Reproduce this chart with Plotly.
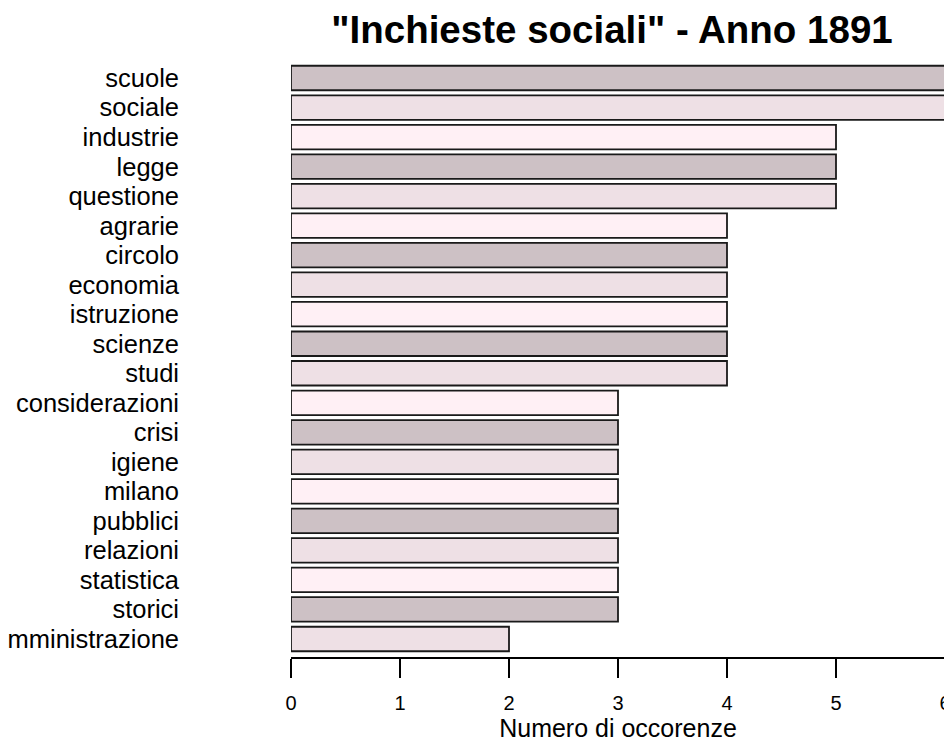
import plotly.graph_objects as go

words = ["amministrazione", "storici", "statistica", "relazioni", "pubblici",
         "milano", "igiene", "crisi", "considerazioni", "studi", "scienze",
         "istruzione", "economia", "circolo", "agrarie", "questione", "legge",
         "industrie", "sociale", "scuole"]
counts = [2, 3, 3, 3, 3, 3, 3, 3, 3, 4, 4, 4, 4, 4, 4, 5, 5, 5, 6, 6]
palette = ["#EEE0E5", "#CDC1C5", "#FFF0F5"]
x_ticks = [0, 1, 2, 3, 4, 5, 6]

colors = [palette[i % 3] for i in range(len(words))]
font = "Liberation Sans, Arial, sans-serif"

# the page body has an 8px margin; figure sized/margined so the plot lands
# at the same window pixels as the reference
W, H = 944, 734

fig = go.Figure(go.Bar(
    x=counts, y=words, orientation="h", width=0.83,
    marker=dict(color=colors, line=dict(color="#1a1a1a", width=1.8)),
))

fig.update_layout(
    width=W, height=H,
    margin=dict(l=283, r=7, t=52, b=85),
    plot_bgcolor="white", paper_bgcolor="white",
    showlegend=False,
    font=dict(family=font, color="black"),
    title=dict(text='<b>"Inchieste sociali" - Anno 1891</b>',
               x=604 / W, xanchor="center",
               y=1 - 21.5 / H, yanchor="middle",
               font=dict(size=38.5, family=font, color="black")),
)
fig.update_xaxes(
    range=[0, 6], tickmode="array", tickvals=x_ticks,
    ticktext=[str(v) for v in x_ticks],
    showgrid=False, zeroline=False, automargin=False,
    showline=True, linecolor="black", linewidth=1.6,
    ticks="outside", ticklen=19, tickwidth=1.6, tickcolor="black",
    tickfont=dict(size=20, family=font), ticklabelstandoff=8,
    ticklabeloverflow="allow",
    title=dict(text="Numero di occorenze", font=dict(size=25, family=font), standoff=6),
)
fig.update_yaxes(
    type="category", categoryorder="array", categoryarray=words,
    tickmode="array", tickvals=words, ticktext=words,
    range=[-0.61, 19.61], showgrid=False, zeroline=False, showline=False,
    automargin=False,
    ticks="", tickfont=dict(size=25.5, family=font), ticklabelstandoff=111,
    ticklabeloverflow="allow",
)

fig.write_html("out.html")
